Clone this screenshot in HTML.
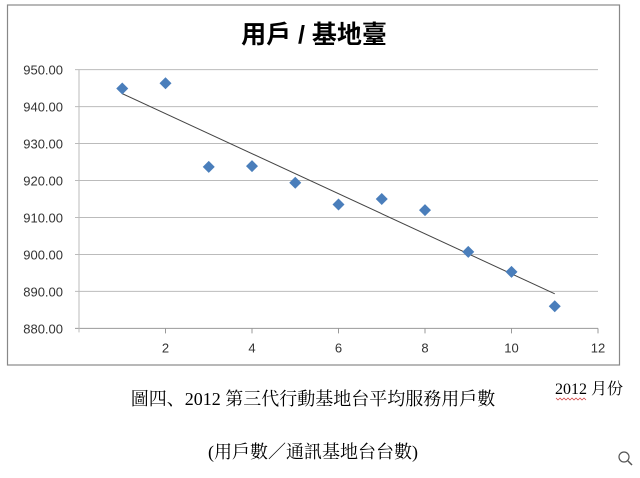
<!DOCTYPE html>
<html><head><meta charset="utf-8"><style>
body{margin:0;width:640px;height:473px;background:#fff;overflow:hidden;font-family:"Liberation Sans","Noto Sans CJK TC",sans-serif}
</style></head><body>
<svg width="640" height="473" xmlns="http://www.w3.org/2000/svg">
<rect x="7.5" y="5" width="612" height="360" fill="#fff" stroke="#888" stroke-width="1.2"/>
<text x="314" y="43" text-anchor="middle" font-size="25" font-weight="bold" font-family="'Liberation Sans','Noto Sans CJK TC',sans-serif">用戶 / 基地臺</text>
<g id="grid"></g><g id="axes"></g><g id="marks"></g>
<text x="313" y="405" text-anchor="middle" font-size="18" font-family="'Liberation Serif','Noto Serif CJK SC',serif">圖四、2012 第三代行動基地台平均服務用戶數</text>
<text x="555" y="394" font-size="16" font-family="'Liberation Serif','Noto Serif CJK SC',serif">2012 月份</text>
<path d="M556 398 l2 2 l2 -2 l2 2 l2 -2 l2 2 l2 -2 l2 2 l2 -2 l2 2 l2 -2 l2 2 l2 -2 l2 2 l2 -2 l2 2" stroke="#c33" fill="none" stroke-width="0.7"/>
<text x="313" y="458" text-anchor="middle" font-size="18" font-family="'Liberation Serif','Noto Serif CJK SC',serif">(用戶數／通訊基地台台數)</text>
<g><circle cx="624" cy="457" r="5" fill="none" stroke="#555" stroke-width="1.2"/><line x1="628" y1="461" x2="632" y2="465" stroke="#555" stroke-width="1.5"/></g>
</svg>
<script>
const months=[1,2,3,4,5,6,7,8,9,10,11];
const values=[944.9,946.3,923.7,923.9,919.4,913.5,915.0,912.0,900.7,895.3,886.0];
const yTicks=[880,890,900,910,920,930,940,950];
const xTicks=[2,4,6,8,10,12];
const NS="http://www.w3.org/2000/svg";
const x0=79,x1=598,y0=328.4,y1=69.6;
const sx=v=>x0+(v-0)/(12-0)*(x1-x0);
const sy=v=>y0-(v-880)/(950-880)*(y0-y1);
function mk(t,a,p){const e=document.createElementNS(NS,t);for(const k in a)e.setAttribute(k,a[k]);p.appendChild(e);return e;}
const grid=document.getElementById('grid'),axes=document.getElementById('axes'),marks=document.getElementById('marks');
yTicks.forEach(v=>{
 const l=mk('line',{x1:x0-4,x2:x1,y1:sy(v),y2:sy(v),stroke:v===880?'#999':'#bbb','stroke-width':1},grid);
 
 
 const t=mk('text',{x:x0-16,y:sy(v)+5,'text-anchor':'end','font-size':13,fill:'#333'},axes);
 t.textContent=v.toFixed(2);
 
 
});
const ya=mk('line',{x1:x0,x2:x0,y1:y1,y2:y0+4,stroke:'#bbb'},axes);


xTicks.forEach(v=>{
 mk('line',{x1:sx(v),x2:sx(v),y1:y0,y2:y0+5,stroke:'#999'},axes);
 const t=mk('text',{x:sx(v),y:y0+24,'text-anchor':'middle','font-size':13,fill:'#333'},axes);
 t.textContent=v;
 
 
});
const n=months.length;let mx=0,my=0;months.forEach((m,i)=>{mx+=m;my+=values[i];});mx/=n;my/=n;
let num=0,den=0;months.forEach((m,i)=>{num+=(m-mx)*(values[i]-my);den+=(m-mx)*(m-mx);});
const b=num/den,a=my-b*mx;
const tl=mk('line',{x1:sx(months[0]),y1:sy(a+b*months[0]),x2:sx(months[n-1]),y2:sy(a+b*months[n-1]),stroke:'#444','stroke-width':1},marks);


months.forEach((m,i)=>{
 const cx=sx(m),cy=sy(values[i]),r=6;
 const p=mk('polygon',{points:`${cx},${cy-r} ${cx+r},${cy} ${cx},${cy+r} ${cx-r},${cy}`,fill:'#4a7ebb'},marks);
 
 
});
</script>
</body></html>
